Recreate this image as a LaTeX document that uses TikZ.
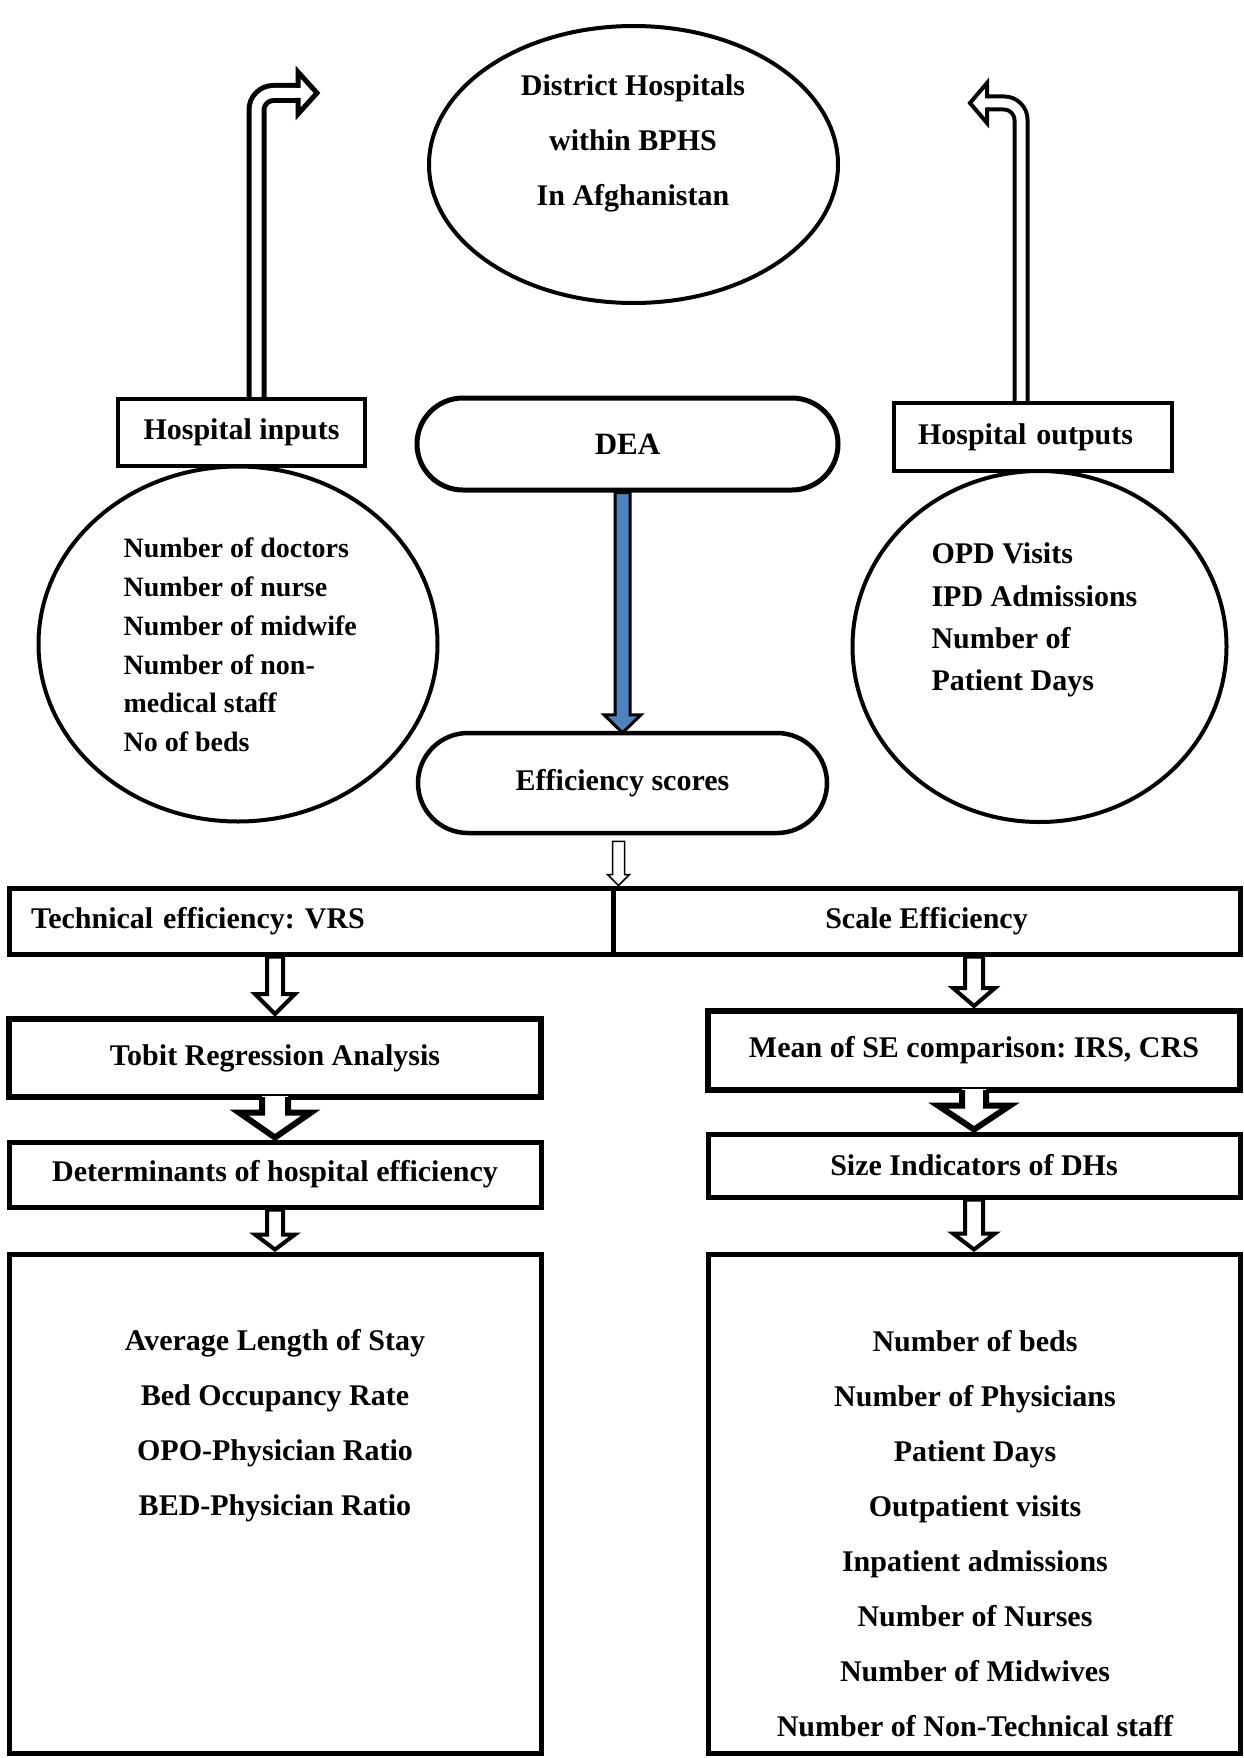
\documentclass[tikz,border=0pt]{standalone}
\usepackage{fontspec}
\setmainfont{Liberation Serif}
\usetikzlibrary{calc,backgrounds,shapes.geometric}
\definecolor{deablue}{HTML}{4F81BD}
\frenchspacing
\newcommand{\hdown}[6]{%
  \filldraw[#6] let \p1=(#1), \p2=(#2) in
    (\x1-#3pt,\y1) -- (\x1-#3pt,\y2+#5pt) -- (\x1-#4pt,\y2+#5pt) -- (\x1,\y2)
    -- (\x1+#4pt,\y2+#5pt) -- (\x1+#3pt,\y2+#5pt) -- (\x1+#3pt,\y1) -- cycle;}
\newcommand{\wdown}[6]{%
  \fill[white] let \p1=(#1), \p2=(#2) in
    (\x1-#3pt,\y1+4pt) -- (\x1-#3pt,\y2+#5pt) -- (\x1-#4pt,\y2+#5pt) -- (\x1,\y2)
    -- (\x1+#4pt,\y2+#5pt) -- (\x1+#3pt,\y2+#5pt) -- (\x1+#3pt,\y1+4pt) -- cycle;
  \draw[line width=#6pt] let \p1=(#1), \p2=(#2) in
    (\x1-#3pt,\y1+3pt) -- (\x1-#3pt,\y2+#5pt) -- (\x1-#4pt,\y2+#5pt) -- (\x1,\y2)
    -- (\x1+#4pt,\y2+#5pt) -- (\x1+#3pt,\y2+#5pt) -- (\x1+#3pt,\y1+3pt);}
\begin{document}
\begin{tikzpicture}[x=1pt,y=-1pt,
  every node/.style={font=\fontsize{30}{36}\selectfont\bfseries},
  box/.style={draw, line width=5pt, inner sep=0pt},
  oval/.style={draw, ellipse, line width=4pt, inner sep=0pt},
  hollow/.style={fill=white, draw=black, line width=4pt},
  bent/.style={double=white, line width=5pt, double distance=10pt, rounded corners=17pt}]
\useasboundingbox (0,0) rectangle (1244,1758);

% top ellipse
\node[oval, minimum width=409pt, minimum height=277pt] (dh) at (633.5,164.5) {};
\node[align=center, font=\fontsize{30}{55}\selectfont\bfseries] (dhtext) at (633,143) {District Hospitals\\within BPHS\\In Afghanistan};

% inputs
\node[box, line width=3.5pt, minimum width=247pt, minimum height=67pt] (inbox) at (241.5,432.5) {Hospital inputs};
\node[oval, minimum width=399pt, minimum height=355pt] (inell) at (238,644) {};
\node[align=left, anchor=west, font=\fontsize{28}{38.8}\selectfont\bfseries] (intext) at (120,645)
  {Number of doctors\\Number of nurse\\Number of midwife\\Number of non-\\medical staff\\No of beds};

% outputs
\node[box, line width=3.5pt, minimum width=278pt, minimum height=68pt, text width=230pt, inner xsep=24pt, align=left] (outbox) at (1033,437) {Hospital outputs};
\node[oval, minimum width=374pt, minimum height=351pt] (outell) at (1039.5,646.5) {};
\node[align=left, anchor=west, font=\fontsize{30}{42.3}\selectfont\bfseries] (outtext) at (928,620)
  {OPD Visits\\IPD Admissions\\Number of\\Patient Days};

% DEA and efficiency scores
\node[box, rounded corners=46pt, minimum width=421pt, minimum height=92pt, font=\fontsize{31}{36}\selectfont\bfseries] (dea) at (627.5,444) {DEA};
\node[box, line width=4.5pt, rounded corners=50pt, minimum width=409pt, minimum height=100pt] (eff) at (622.5,783) {Efficiency scores};

% TE / SE
\node[box, minimum width=604pt, minimum height=66pt, text width=560pt, align=left, inner xsep=22pt] (te) at (311,921) {Technical efficiency: VRS};
\node[box, minimum width=627pt, minimum height=66pt] (se) at (926.5,921) {Scale Efficiency};

% left column
\node[box, line width=6pt, minimum width=532pt, minimum height=78pt] (tobit) at (275,1058) {Tobit Regression Analysis};
\node[box, minimum width=532pt, minimum height=65pt] (det) at (275,1174.5) {Determinants of hospital efficiency};
\node[box, minimum width=532pt, minimum height=499pt] (bl) at (275,1503.5) {};
\node[align=center, font=\fontsize{30}{55}\selectfont\bfseries] (bltext) at (275,1426)
  {Average Length of Stay\\Bed Occupancy Rate\\OPO-Physician Ratio\\BED-Physician Ratio};

% right column
\node[box, line width=6pt, minimum width=532pt, minimum height=79pt] (mean) at (974,1050.5) {Mean of SE comparison: IRS, CRS};
\node[box, minimum width=532pt, minimum height=63pt] (size) at (974,1165.5) {Size Indicators of DHs};
\node[box, minimum width=532pt, minimum height=499pt] (br) at (974,1503.5) {};
\node[align=center, font=\fontsize{30}{55}\selectfont\bfseries] (brtext) at (975,1534)
  {Number of beds\\Number of Physicians\\Patient Days\\Outpatient visits\\Inpatient admissions\\Number of Nurses\\Number of Midwives\\Number of Non-Technical staff};

% free ends of the bent arrows
\coordinate (intip) at (317,93);
\coordinate (outtip) at (970,103);

\begin{scope}[on background layer]
  % left bent arrow
  \draw[bent] ($(inbox.north)+(15,0)$) |- (299,93);
  \fill[white] (298,72) -- (intip) -- (298,114) -- cycle;
  \draw[line width=5pt] (298,88) -- (298,72) -- (intip) -- (298,114) -- (298,98);
  % right bent arrow
  \draw[bent, line width=4pt, double distance=9pt] ($(outbox.north)+(-12,0)$) |- (988,103);
  \fill[white] (987,83) -- (outtip) -- (987,123) -- cycle;
  \draw[line width=4pt] (987,98.5) -- (987,83) -- (outtip) -- (987,123) -- (987,107.5);
  % DEA -> efficiency scores
  \hdown{eff.north |- dea.south}{$(eff.north)+(-2.5,2)$}{7.5}{18.5}{18}{fill=deablue, draw=black, line width=3pt}
  % efficiency -> TE/SE
  \hdown{$(te.north east |- eff.south)+(3,6)$}{$(te.north east)+(3,0)$}{6}{11}{11}{fill=white, draw=black, line width=1.5pt}
  % TE -> Tobit, Det -> box
  \hdown{tobit.north |- te.south}{$(tobit.north)+(0,-2)$}{8}{20}{20}{hollow}
  \hdown{det.south}{$(bl.north)+(0,-2)$}{8}{20}{15}{hollow}
  % SE -> Mean, Size -> box
  \hdown{mean.north |- se.south}{$(mean.north)+(0,-2)$}{9}{21}{18}{hollow}
  \hdown{size.south}{$(br.north)+(0,-2)$}{9}{21}{16}{hollow}
\end{scope}

% wide arrows merging into boxes
\wdown{tobit.south}{$(det.north)+(0,-2)$}{13}{36}{25}{6}
\wdown{mean.south}{$(size.north)+(0,-2)$}{12}{36}{24}{6}
\end{tikzpicture}
\end{document}
